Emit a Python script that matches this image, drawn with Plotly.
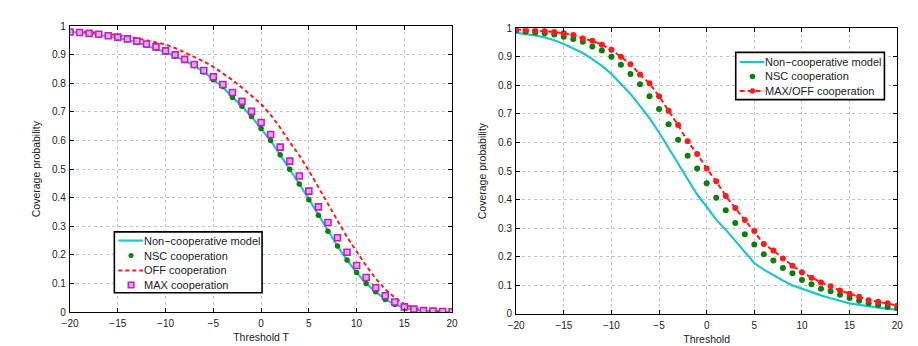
import plotly.graph_objects as go

# ---------------- data ----------------
thr = list(range(-20, 21))

# Left panel
left_noncoop = [0.98, 0.978, 0.975, 0.97, 0.965, 0.96, 0.953, 0.944, 0.933, 0.922, 0.909,
                0.895, 0.88, 0.862, 0.84, 0.813, 0.787, 0.752, 0.72, 0.684, 0.643,
                0.60, 0.55, 0.50, 0.448, 0.395, 0.34, 0.284, 0.231, 0.182, 0.138,
                0.10, 0.07, 0.045, 0.026, 0.015, 0.008, 0.004, 0.002, 0.001, 0.0]
left_nsc = [0.98, 0.978, 0.975, 0.97, 0.965, 0.96, 0.953, 0.944, 0.933, 0.922, 0.909,
            0.895, 0.88, 0.862, 0.84, 0.813, 0.789, 0.751, 0.72, 0.684, 0.642,
            0.60, 0.55, 0.50, 0.448, 0.393, 0.339, 0.283, 0.231, 0.182, 0.138,
            0.10, 0.071, 0.044, 0.026, 0.015, 0.007, 0.004, 0.002, 0.001, 0.0]
left_off = [0.985, 0.983, 0.98, 0.977, 0.973, 0.969, 0.964, 0.958, 0.951, 0.944, 0.936,
            0.924, 0.909, 0.893, 0.877, 0.858, 0.836, 0.812, 0.785, 0.757, 0.728,
            0.69, 0.645, 0.595, 0.548, 0.495, 0.437, 0.377, 0.317, 0.262, 0.212,
            0.162, 0.117, 0.08, 0.05, 0.027, 0.014, 0.007, 0.003, 0.001, 0.0]
left_max = [0.98, 0.978, 0.975, 0.972, 0.967, 0.962, 0.956, 0.948, 0.938, 0.928, 0.914,
            0.90, 0.884, 0.866, 0.845, 0.823, 0.796, 0.768, 0.737, 0.702, 0.663,
            0.621, 0.577, 0.528, 0.476, 0.423, 0.368, 0.313, 0.26, 0.209, 0.163,
            0.121, 0.085, 0.057, 0.035, 0.018, 0.01, 0.005, 0.003, 0.002, 0.001]

# Right panel
right_noncoop = [0.984, 0.98, 0.975, 0.968, 0.958, 0.945, 0.93, 0.913, 0.892, 0.868, 0.84,
                 0.805, 0.77, 0.728, 0.685, 0.635, 0.58, 0.53, 0.47, 0.418, 0.375,
                 0.33, 0.295, 0.255, 0.215, 0.178, 0.155, 0.135, 0.117, 0.1, 0.088,
                 0.076, 0.065, 0.055, 0.045, 0.037, 0.032, 0.027, 0.022, 0.018, 0.015]
right_nsc = [0.992, 0.988, 0.984, 0.982, 0.978, 0.97, 0.962, 0.953, 0.936, 0.922, 0.90,
             0.872, 0.84, 0.804, 0.762, 0.717, 0.664, 0.61, 0.554, 0.509, 0.457,
             0.407, 0.363, 0.318, 0.279, 0.243, 0.209, 0.187, 0.161, 0.142, 0.119,
             0.104, 0.088, 0.079, 0.067, 0.056, 0.046, 0.037, 0.031, 0.024, 0.02]
right_maxoff = [0.996, 0.994, 0.992, 0.99, 0.987, 0.982, 0.976, 0.964, 0.956, 0.942, 0.925,
                0.90, 0.874, 0.838, 0.807, 0.762, 0.711, 0.661, 0.604, 0.56, 0.509,
                0.464, 0.413, 0.371, 0.329, 0.29, 0.245, 0.222, 0.194, 0.169, 0.146,
                0.127, 0.11, 0.097, 0.082, 0.071, 0.06, 0.048, 0.043, 0.037, 0.029]

xticks = list(range(-20, 21, 5))
yticks = [0, 0.1, 0.2, 0.3, 0.4, 0.5, 0.6, 0.7, 0.8, 0.9, 1]

left_names = ["Non−cooperative model", "NSC cooperation", "OFF cooperation", "MAX cooperation"]
right_names = ["Non−cooperative model", "NSC cooperation", "MAX/OFF cooperation"]

# ---------------- styles ----------------
W, H = 918, 346
CYAN = "#1fc4cc"
GREEN = "#0a800a"
RED = "#ff1a1a"
MAG = "#c51fc5"
MAGFILL = "#e9a6e9"
FONT = "Liberation Sans, Arial, sans-serif"
TXT = "#222"

fig = go.Figure()

# left
fig.add_trace(go.Scatter(x=thr, y=left_noncoop, mode="lines", name=left_names[0],
                         line=dict(color=CYAN, width=2.2), xaxis="x", yaxis="y"))
fig.add_trace(go.Scatter(x=thr, y=left_nsc, mode="markers", name=left_names[1],
                         marker=dict(color=GREEN, size=5.5, symbol="circle"),
                         xaxis="x", yaxis="y"))
fig.add_trace(go.Scatter(x=thr, y=left_off, mode="lines", name=left_names[2],
                         line=dict(color=RED, width=2, dash="4px,3px"),
                         xaxis="x", yaxis="y"))
fig.add_trace(go.Scatter(x=thr, y=left_max, mode="markers", name=left_names[3],
                         marker=dict(color=MAGFILL, size=6, symbol="square",
                                     line=dict(color=MAG, width=1.6)),
                         xaxis="x", yaxis="y"))

# right
fig.add_trace(go.Scatter(x=thr, y=right_noncoop, mode="lines", name=right_names[0],
                         line=dict(color=CYAN, width=2.2), xaxis="x2", yaxis="y2"))
fig.add_trace(go.Scatter(x=thr, y=right_nsc, mode="markers", name=right_names[1],
                         marker=dict(color=GREEN, size=6, symbol="circle"),
                         xaxis="x2", yaxis="y2"))
fig.add_trace(go.Scatter(x=thr, y=right_maxoff, mode="lines+markers", name=right_names[2],
                         line=dict(color=RED, width=2, dash="5px,3px"),
                         marker=dict(color=RED, size=6, symbol="circle"),
                         xaxis="x2", yaxis="y2"))

axis_common = dict(
    showline=True, linecolor="black", linewidth=1.3, mirror="allticks",
    ticks="inside", ticklen=4, tickcolor="black", tickwidth=1,
    showgrid=True, gridcolor="#c4c4c4", griddash="dot", gridwidth=1,
    zeroline=False, tickfont=dict(family=FONT, size=10, color=TXT),
)

xa = dict(axis_common, range=[-20, 20], tickvals=xticks, ticklabelstandoff=2)
ya = dict(axis_common, range=[0, 1], tickvals=yticks, ticklabelstandoff=1)
title_font = dict(size=10.5, family=FONT, color=TXT)

fig.update_layout(
    width=W, height=H,
    margin=dict(l=0, r=0, t=0, b=0),
    paper_bgcolor="white", plot_bgcolor="white",
    font=dict(family=FONT, color=TXT),
    showlegend=False,
    xaxis=dict(xa, domain=[63/W, 451/W], anchor="y",
               title=dict(text="Threshold T", font=title_font, standoff=5)),
    yaxis=dict(ya, domain=[1-317/H, 1-21/H], anchor="x",
               title=dict(text="Coverage probability", font=title_font, standoff=9)),
    xaxis2=dict(xa, domain=[516/W, 903/W], anchor="y2",
                title=dict(text="Threshold", font=title_font, standoff=5)),
    yaxis2=dict(ya, domain=[1-319/H, 1-23/H], anchor="x2",
                title=dict(text="Coverage probability", font=title_font, standoff=9)),
)

# ---------------- hand-drawn legends (pixel layout -> paper coords) ----------------
def px(x):
    return x / W

def py(y):
    return 1 - y / H

shapes = []
annotations = []

def legend_box(x0, y0, x1, y1):
    shapes.append(dict(type="rect", xref="paper", yref="paper",
                       x0=px(x0), x1=px(x1), y0=py(y1), y1=py(y0),
                       line=dict(color="black", width=1.6), fillcolor="white", layer="above"))

def legend_text(x, y, text):
    annotations.append(dict(xref="paper", yref="paper", x=px(x), y=py(y),
                            xanchor="left", yanchor="middle", showarrow=False,
                            text=text, font=dict(family=FONT, size=11, color=TXT)))

def legend_line(x0, x1, y, color, dash="solid", width=2.2):
    shapes.append(dict(type="line", xref="paper", yref="paper",
                       x0=px(x0), x1=px(x1), y0=py(y), y1=py(y),
                       line=dict(color=color, width=width, dash=dash), layer="above"))

def legend_dot(cx, cy, r, color):
    shapes.append(dict(type="circle", xref="paper", yref="paper",
                       x0=px(cx - r), x1=px(cx + r), y0=py(cy + r), y1=py(cy - r),
                       line=dict(color=color, width=0), fillcolor=color, layer="above"))

def legend_square(cx, cy, r, color, fill):
    shapes.append(dict(type="rect", xref="paper", yref="paper",
                       x0=px(cx - r), x1=px(cx + r), y0=py(cy + r), y1=py(cy - r),
                       line=dict(color=color, width=1.6), fillcolor=fill, layer="above"))

# left legend
legend_box(108, 234, 258, 297)
rows = [243, 258.5, 274, 289]
legend_line(112, 137, rows[0], CYAN)
legend_dot(125, rows[1], 2.6, GREEN)
legend_line(112, 137, rows[2], RED, dash="4px,3px", width=2)
legend_square(125, rows[3], 2.8, MAG, MAGFILL)
for r, name in zip(rows, left_names):
    legend_text(136, r, name)

# right legend
legend_box(739, 48, 890, 97)
rows2 = [58, 73, 88]
legend_line(743, 768, rows2[0], CYAN)
legend_dot(756, rows2[1], 2.8, GREEN)
legend_line(743, 768, rows2[2], RED, dash="5px,3px", width=2)
legend_dot(756, rows2[2], 2.8, RED)
for r, name in zip(rows2, right_names):
    legend_text(767, r, name)

fig.update_layout(shapes=shapes, annotations=annotations)

fig.write_html("out.html")
